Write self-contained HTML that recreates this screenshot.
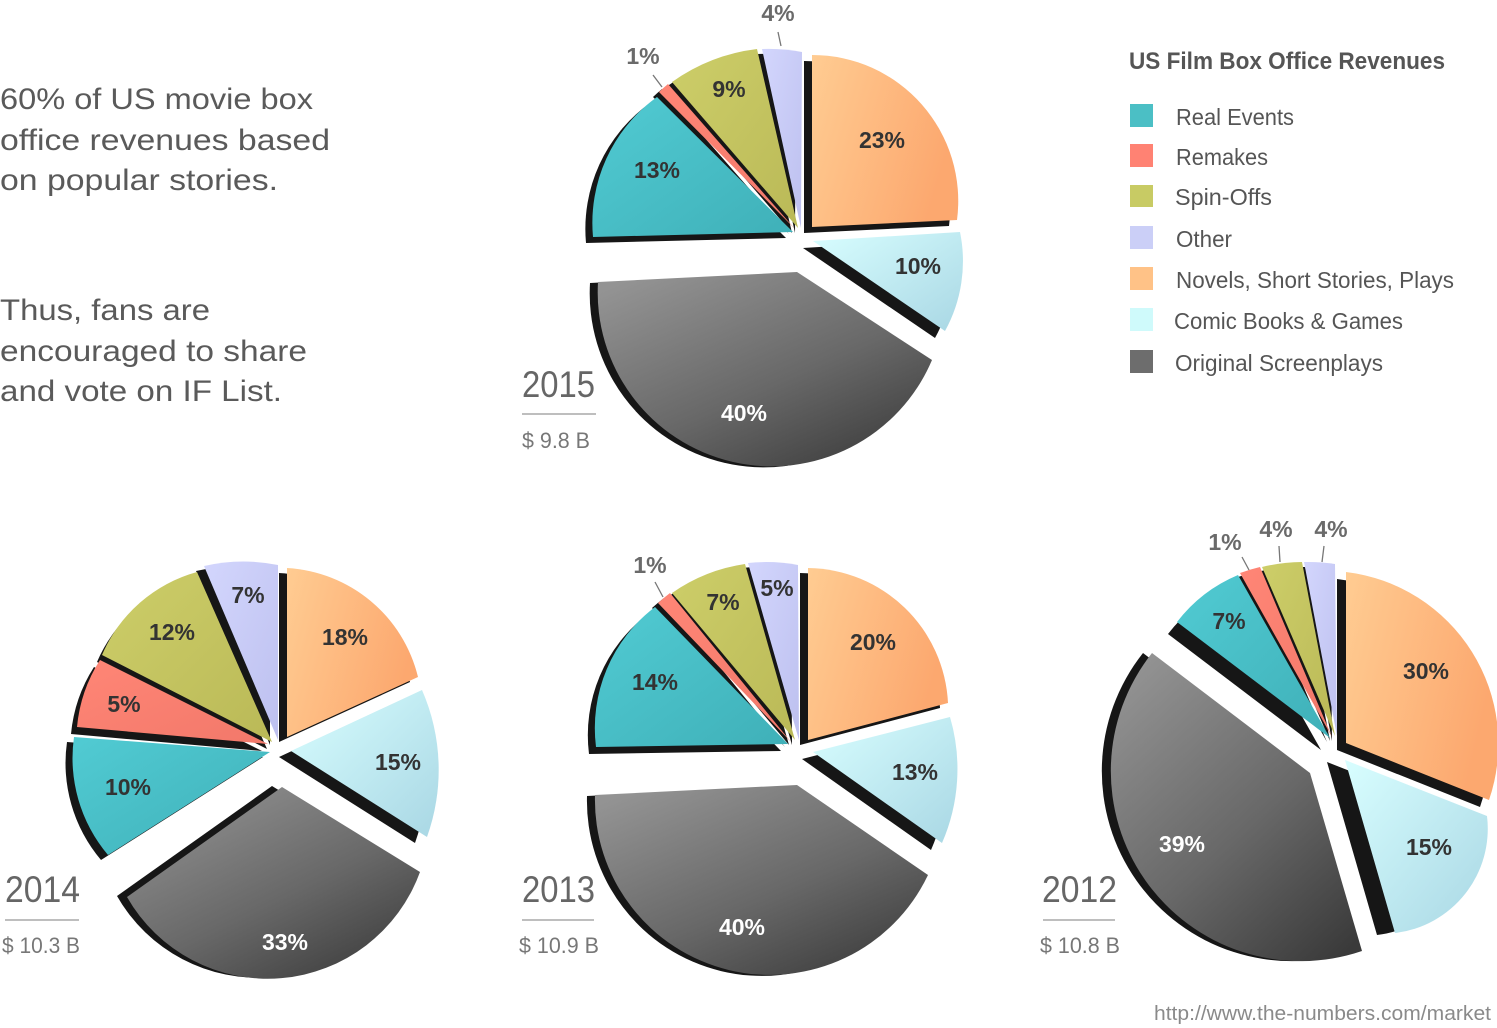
<!DOCTYPE html>
<html>
<head>
<meta charset="utf-8">
<style>
html,body{margin:0;padding:0;background:#fff;}
svg{display:block;}
text{font-family:"Liberation Sans",Arial,sans-serif;}
</style>
</head>
<body>
<svg width="1497" height="1028" viewBox="0 0 1497 1028" xmlns="http://www.w3.org/2000/svg">
<defs>
<linearGradient id="gOr" x1="0" y1="0" x2="1" y2="0.35"><stop offset="0" stop-color="#ffcc92"/><stop offset="1" stop-color="#fca86f"/></linearGradient>
<linearGradient id="gCo" x1="0" y1="0" x2="1" y2="1"><stop offset="0" stop-color="#d8feff"/><stop offset="1" stop-color="#a9d7e4"/></linearGradient>
<linearGradient id="gGr" x1="0.15" y1="0" x2="0.9" y2="1"><stop offset="0" stop-color="#939393"/><stop offset="0.55" stop-color="#686868"/><stop offset="1" stop-color="#3a3a3a"/></linearGradient>
<linearGradient id="gTe" x1="0" y1="0" x2="1" y2="1"><stop offset="0" stop-color="#51cbd3"/><stop offset="1" stop-color="#3fb0b8"/></linearGradient>
<linearGradient id="gRe" x1="0" y1="0" x2="1" y2="1"><stop offset="0" stop-color="#ff8676"/><stop offset="1" stop-color="#f2786a"/></linearGradient>
<linearGradient id="gOl" x1="0" y1="0" x2="1" y2="1"><stop offset="0" stop-color="#cdce69"/><stop offset="1" stop-color="#bab957"/></linearGradient>
<linearGradient id="gOt" x1="0" y1="0" x2="1" y2="1"><stop offset="0" stop-color="#d3d6fd"/><stop offset="1" stop-color="#bdc0ef"/></linearGradient>
</defs>

<!-- Left text -->
<g fill="#5a5a5a" font-size="30">
<text x="0" y="109" textLength="313" lengthAdjust="spacingAndGlyphs">60% of US movie box</text>
<text x="0" y="150" textLength="330" lengthAdjust="spacingAndGlyphs">office revenues based</text>
<text x="0" y="190" textLength="278" lengthAdjust="spacingAndGlyphs">on popular stories.</text>
<text x="0" y="320" textLength="210" lengthAdjust="spacingAndGlyphs">Thus, fans are</text>
<text x="0" y="361" textLength="307" lengthAdjust="spacingAndGlyphs">encouraged to share</text>
<text x="0" y="401" textLength="282" lengthAdjust="spacingAndGlyphs">and vote on IF List.</text>
</g>

<!-- Legend -->
<text x="1129" y="69" font-size="24" font-weight="bold" fill="#555" textLength="316" lengthAdjust="spacingAndGlyphs">US Film Box Office Revenues</text>
<rect x="1130" y="104" width="23" height="23" fill="#4bbfc5"/>
<rect x="1130" y="144" width="23" height="23" fill="#ff8273"/>
<rect x="1130" y="185" width="23" height="22" fill="#c8cb64"/>
<rect x="1130" y="226" width="23" height="23" fill="#cbcff7"/>
<rect x="1130" y="267" width="23" height="23" fill="#ffc287"/>
<rect x="1130" y="308" width="23" height="23" fill="#cffafb"/>
<rect x="1130" y="350" width="23" height="23" fill="#6d6d6d"/>
<g fill="#555" font-size="23">
<text x="1176" y="125" textLength="118" lengthAdjust="spacingAndGlyphs">Real Events</text>
<text x="1176" y="165" textLength="92" lengthAdjust="spacingAndGlyphs">Remakes</text>
<text x="1175" y="205" textLength="97" lengthAdjust="spacingAndGlyphs">Spin-Offs</text>
<text x="1176" y="247" textLength="56" lengthAdjust="spacingAndGlyphs">Other</text>
<text x="1176" y="288" textLength="278" lengthAdjust="spacingAndGlyphs">Novels, Short Stories, Plays</text>
<text x="1174" y="329" textLength="229" lengthAdjust="spacingAndGlyphs">Comic Books &amp; Games</text>
<text x="1175" y="371" textLength="208" lengthAdjust="spacingAndGlyphs">Original Screenplays</text>
</g>

<!-- Footer -->
<text x="1154" y="1020" font-size="20" fill="#8a8a8a" textLength="337" lengthAdjust="spacingAndGlyphs">http://www.the-numbers.com/market</text>

<!-- Year labels -->
<g fill="#666">
<text x="522" y="397" font-size="37" textLength="73" lengthAdjust="spacingAndGlyphs">2015</text>
<text x="522" y="448" font-size="22" fill="#777" textLength="68" lengthAdjust="spacingAndGlyphs">$ 9.8 B</text>
<text x="5" y="902" font-size="37" textLength="75" lengthAdjust="spacingAndGlyphs">2014</text>
<text x="2" y="953" font-size="22" fill="#777" textLength="78" lengthAdjust="spacingAndGlyphs">$ 10.3 B</text>
<text x="522" y="902" font-size="37" textLength="73" lengthAdjust="spacingAndGlyphs">2013</text>
<text x="519" y="953" font-size="22" fill="#777" textLength="80" lengthAdjust="spacingAndGlyphs">$ 10.9 B</text>
<text x="1042" y="902" font-size="37" textLength="75" lengthAdjust="spacingAndGlyphs">2012</text>
<text x="1040" y="953" font-size="22" fill="#777" textLength="80" lengthAdjust="spacingAndGlyphs">$ 10.8 B</text>
</g>
<g stroke="#a8a8a8" stroke-width="1.5">
<line x1="522" y1="414" x2="596" y2="414"/>
<line x1="5" y1="920" x2="79" y2="920"/>
<line x1="522" y1="920" x2="594" y2="920"/>
<line x1="1043" y1="920" x2="1115" y2="920"/>
</g>

<!-- ===== 2015 ===== -->
<g fill="#161616">
<path transform="translate(-8,6)" d="M812,227 L812,55 A146,146 0 0 1 957,220 Z"/>
<path transform="translate(-10,7)" d="M813,241 L960,232 A145,145 0 0 1 945,331 Z"/>
<path transform="translate(-8,1)" d="M797,272 L932,360 A174,174 0 0 1 598,282 Z"/>
<path transform="translate(-7,6)" d="M793,232 L593,237 A155,155 0 0 1 657,97 Z"/>
<path transform="translate(-6,5)" d="M795,229 L659,92 A190,190 0 0 1 668,84 Z"/>
<path transform="translate(-6,5)" d="M798,228 L672,82 A185,185 0 0 1 757,49 Z"/>
<path transform="translate(-6,5)" d="M801,228 L762,49 A178,178 0 0 1 802,52 Z"/>
</g>
<path fill="url(#gOr)" d="M812,227 L812,55 A146,146 0 0 1 957,220 Z"/>
<path fill="url(#gCo)" d="M813,241 L960,232 A145,145 0 0 1 945,331 Z"/>
<path fill="url(#gGr)" d="M797,272 L932,360 A174,174 0 0 1 598,282 Z"/>
<path fill="url(#gTe)" d="M793,232 L593,237 A155,155 0 0 1 657,97 Z"/>
<path fill="url(#gRe)" d="M795,229 L659,92 A190,190 0 0 1 668,84 Z"/>
<path fill="url(#gOl)" d="M798,228 L672,82 A185,185 0 0 1 757,49 Z"/>
<path fill="url(#gOt)" d="M801,228 L762,49 A178,178 0 0 1 802,52 Z"/>

<!-- ===== 2014 ===== -->
<g fill="#161616">
<path transform="translate(-8,5)" d="M287,737 L287,568 A143,143 0 0 1 418,677 Z"/>
<path transform="translate(-12,6)" d="M291,751 L422,690 A199,199 0 0 1 427,837 Z"/>
<path transform="translate(-10,-1)" d="M282,787 L420,872 A162,162 0 0 1 127,897 Z"/>
<path transform="translate(-7,5)" d="M270,752 L108,855 A150,150 0 0 1 74,737 Z"/>
<path transform="translate(-6,7)" d="M268,744 L77,727 A150,150 0 0 1 100,660 Z"/>
<path transform="translate(-5,7)" d="M272,742 L102,655 A145,145 0 0 1 197,572 Z"/>
<path transform="translate(-8,5)" d="M278,740 L204,566 A175,175 0 0 1 278,565 Z"/>
</g>
<path fill="url(#gOr)" d="M287,737 L287,568 A143,143 0 0 1 418,677 Z"/>
<path fill="url(#gCo)" d="M291,751 L422,690 A199,199 0 0 1 427,837 Z"/>
<path fill="url(#gGr)" d="M282,787 L420,872 A162,162 0 0 1 127,897 Z"/>
<path fill="url(#gTe)" d="M270,752 L108,855 A150,150 0 0 1 74,737 Z"/>
<path fill="url(#gRe)" d="M268,744 L77,727 A150,150 0 0 1 100,660 Z"/>
<path fill="url(#gOl)" d="M272,742 L102,655 A145,145 0 0 1 197,572 Z"/>
<path fill="url(#gOt)" d="M278,740 L204,566 A175,175 0 0 1 278,565 Z"/>

<!-- ===== 2013 ===== -->
<g fill="#161616">
<path transform="translate(-8,5)" d="M808,740 L808,568 A142,142 0 0 1 948,703 Z"/>
<path transform="translate(-11,7)" d="M813,752 L950,717 A185,185 0 0 1 942,843 Z"/>
<path transform="translate(-8,1)" d="M797,785 L928,875 A175,175 0 0 1 595,795 Z"/>
<path transform="translate(-7,7)" d="M788,744 L596,747 A152,152 0 0 1 655,607 Z"/>
<path transform="translate(-6,5)" d="M791,742 L658,603 A190,190 0 0 1 670,593 Z"/>
<path transform="translate(-6,5)" d="M795,740 L672,593 A170,170 0 0 1 745,564 Z"/>
<path transform="translate(-7,5)" d="M799,740 L748,563 A175,175 0 0 1 798,565 Z"/>
</g>
<path fill="url(#gOr)" d="M808,740 L808,568 A142,142 0 0 1 948,703 Z"/>
<path fill="url(#gCo)" d="M813,752 L950,717 A185,185 0 0 1 942,843 Z"/>
<path fill="url(#gGr)" d="M797,785 L928,875 A175,175 0 0 1 595,795 Z"/>
<path fill="url(#gTe)" d="M788,744 L596,747 A152,152 0 0 1 655,607 Z"/>
<path fill="url(#gRe)" d="M791,742 L658,603 A190,190 0 0 1 670,593 Z"/>
<path fill="url(#gOl)" d="M795,740 L672,593 A170,170 0 0 1 745,564 Z"/>
<path fill="url(#gOt)" d="M799,740 L748,563 A175,175 0 0 1 798,565 Z"/>

<!-- ===== 2012 ===== -->
<g fill="#161616">
<path transform="translate(-9,7)" d="M1346,743 L1346,572 A173,173 0 0 1 1489,800 Z"/>
<path transform="translate(-18,2)" d="M1345,760 L1487,816 A105,105 0 0 1 1395,933 Z"/>
<path transform="translate(-9,0)" d="M1310,773 L1362,951 A190,190 0 0 1 1152,653 Z"/>
<path transform="translate(-9,12)" d="M1330,738 L1177,622 A150,150 0 0 1 1238,575 Z"/>
<path transform="translate(-5,5)" d="M1332,737 L1240,573 A180,180 0 0 1 1260,567 Z"/>
<path transform="translate(-5,5)" d="M1335,736 L1262,567 A175,175 0 0 1 1302,562 Z"/>
<path transform="translate(-5,5)" d="M1337,736 L1304,562 A175,175 0 0 1 1335,564 Z"/>
</g>
<path fill="url(#gOr)" d="M1346,743 L1346,572 A173,173 0 0 1 1489,800 Z"/>
<path fill="url(#gCo)" d="M1345,760 L1487,816 A105,105 0 0 1 1395,933 Z"/>
<path fill="url(#gGr)" d="M1310,773 L1362,951 A190,190 0 0 1 1152,653 Z"/>
<path fill="url(#gTe)" d="M1330,738 L1177,622 A150,150 0 0 1 1238,575 Z"/>
<path fill="url(#gRe)" d="M1332,737 L1240,573 A180,180 0 0 1 1260,567 Z"/>
<path fill="url(#gOl)" d="M1335,736 L1262,567 A175,175 0 0 1 1302,562 Z"/>
<path fill="url(#gOt)" d="M1337,736 L1304,562 A175,175 0 0 1 1335,564 Z"/>

<!-- Leader lines -->
<g stroke="#777" stroke-width="1.3">
<line x1="653" y1="75" x2="662" y2="87"/>
<line x1="778" y1="32" x2="781" y2="46"/>
<line x1="655" y1="582" x2="663" y2="597"/>
<line x1="1242" y1="557" x2="1249" y2="570"/>
<line x1="1279" y1="546" x2="1280" y2="562"/>
<line x1="1324" y1="546" x2="1322" y2="562"/>
</g>

<!-- Slice labels -->
<g font-size="23" font-weight="bold" fill="#333" text-anchor="middle">
<text x="882" y="148">23%</text>
<text x="657" y="178">13%</text>
<text x="729" y="97">9%</text>
<text x="918" y="274">10%</text>
<text x="248" y="603">7%</text>
<text x="345" y="645">18%</text>
<text x="172" y="640">12%</text>
<text x="124" y="712">5%</text>
<text x="128" y="795">10%</text>
<text x="398" y="770">15%</text>
<text x="723" y="610">7%</text>
<text x="777" y="596">5%</text>
<text x="873" y="650">20%</text>
<text x="655" y="690">14%</text>
<text x="915" y="780">13%</text>
<text x="1229" y="629">7%</text>
<text x="1426" y="679">30%</text>
<text x="1429" y="855">15%</text>
</g>
<g font-size="23" font-weight="bold" fill="#fff" text-anchor="middle">
<text x="744" y="421">40%</text>
<text x="285" y="950">33%</text>
<text x="742" y="935">40%</text>
<text x="1182" y="852">39%</text>
</g>
<g font-size="23" font-weight="bold" fill="#6a6a6a" text-anchor="middle">
<text x="643" y="64">1%</text>
<text x="778" y="21">4%</text>
<text x="650" y="573">1%</text>
<text x="1225" y="550">1%</text>
<text x="1276" y="537">4%</text>
<text x="1331" y="537">4%</text>
</g>
</svg>
</body>
</html>
